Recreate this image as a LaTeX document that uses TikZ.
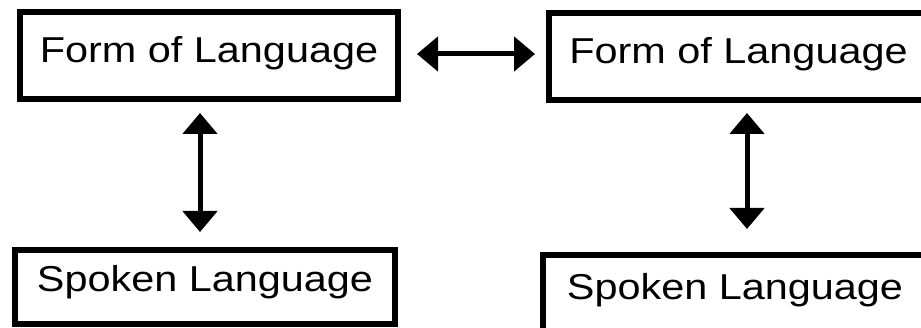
\documentclass[tikz,border=0pt]{standalone}
\usepackage{fontspec}
\setmainfont{Liberation Sans}[FakeStretch=1.15]
\usetikzlibrary{arrows.meta}
\tikzset{
  box/.style={draw, line width=6pt, inner sep=0pt, text height=26pt, font=\fontsize{36pt}{40pt}\selectfont},
  link/.style={line width=5pt, {Triangle[length=21pt,width=34pt]}-{Triangle[length=21pt,width=34pt]}}
}
\begin{document}
\begin{tikzpicture}[x=1pt,y=-1pt]
\useasboundingbox (0,0) rectangle (921,328);
\clip (0,0) rectangle (921,328);
\node[box, minimum width=378pt, minimum height=87pt, text depth=11pt] (tl) at (209,55.5) {Form of Language};
\node[box, minimum width=379pt, minimum height=87pt, text depth=11pt] (tr) at (738.5,56.5) {Form of Language};
\node[box, minimum width=380pt, minimum height=74pt, text depth=16pt] (bl) at (205,287) {Spoken Language};
\node[box, minimum width=384pt, minimum height=84pt, text depth=22pt] (br) at (735,297.5) {Spoken Language};
\draw[link, shorten <=16pt, shorten >=11pt] ([yshift=1.5pt]tl.east) -- ([yshift=2.5pt]tr.west);
\draw[link, shorten <=11pt, shorten >=15pt] ([xshift=-9pt]tl.south) -- ([xshift=-5pt]bl.north);
\draw[link, shorten <=10pt, shorten >=23.5pt] ([xshift=8.5pt]tr.south) -- ([xshift=12pt]br.north);
\end{tikzpicture}
\end{document}
